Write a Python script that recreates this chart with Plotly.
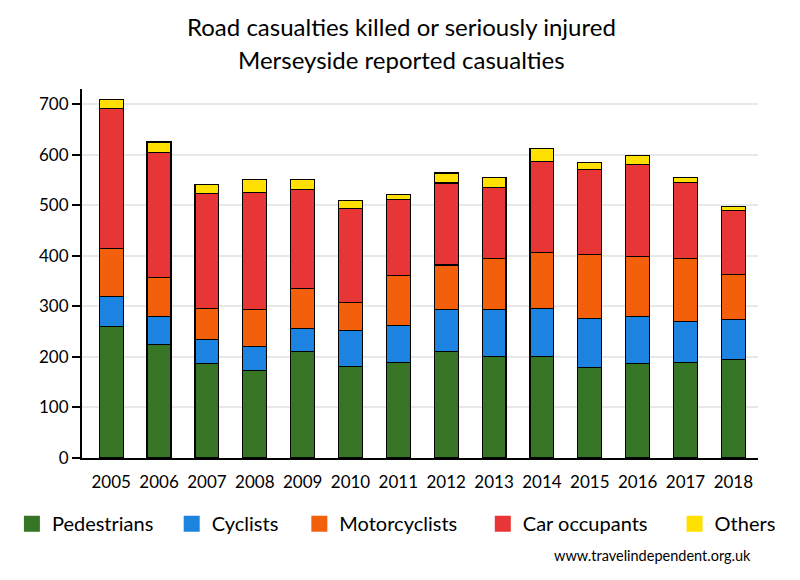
import plotly.graph_objects as go

years = ["2005", "2006", "2007", "2008", "2009", "2010", "2011",
         "2012", "2013", "2014", "2015", "2016", "2017", "2018"]
pedestrians = [260, 224, 187, 173, 210, 181, 189, 210, 201, 201, 179, 187, 189, 195]
cyclists = [59, 56, 47, 47, 46, 71, 73, 83, 93, 95, 97, 93, 81, 79]
motorcyclists = [95, 77, 61, 73, 79, 55, 99, 89, 101, 111, 127, 119, 125, 89]
car_occupants = [277, 248, 228, 232, 196, 186, 150, 162, 140, 180, 168, 182, 150, 127]
others = [18, 20, 18, 26, 20, 16, 10, 20, 20, 26, 14, 18, 10, 8]

series_names = ["Pedestrians", "Cyclists", "Motorcyclists", "Car occupants", "Others"]
series_values = [pedestrians, cyclists, motorcyclists, car_occupants, others]
series_colors = ["#367523", "#1c84e0", "#f45f0c", "#e83535", "#ffe000"]
legend_x = [-0.1037, 0.1327, 0.3215, 0.5929, 0.8766]

FONT = "Lato"

fig = go.Figure()
for name, vals, col in zip(series_names, series_values, series_colors):
    fig.add_trace(go.Bar(
        x=years, y=vals, name=name,
        marker=dict(color=col, line=dict(color="black", width=1.2)),
        showlegend=False,
    ))

legend_layouts = {}
for i, (name, col, lx) in enumerate(zip(series_names, series_colors, legend_x)):
    key = "legend" if i == 0 else f"legend{i + 1}"
    fig.add_trace(go.Scatter(
        x=[None], y=[None], mode="markers", name=name,
        marker=dict(symbol="square", size=16, color=col),
        showlegend=True, legend=key,
    ))
    legend_layouts[key] = dict(
        orientation="h", x=lx, xanchor="left", y=-0.178, yanchor="middle",
        font=dict(family=FONT, size=20, color="black"),
        bgcolor="rgba(0,0,0,0)", itemclick=False,
    )

fig.update_layout(
    width=800, height=580,
    barmode="stack", bargap=0.5,
    plot_bgcolor="white", paper_bgcolor="white",
    margin=dict(l=80, r=42, t=89, b=122),
    font=dict(family=FONT, size=17, color="black"),
    xaxis=dict(
        type="category", range=[-0.61, 13.515],
        showline=True, linecolor="black", linewidth=2,
        showgrid=False, ticks="", tickfont=dict(size=17),
        ticklabelstandoff=8,
    ),
    yaxis=dict(
        range=[0, 730], tickvals=[0, 100, 200, 300, 400, 500, 600, 700],
        showline=True, linecolor="black", linewidth=2,
        showgrid=True, gridcolor="#e8e8e8", gridwidth=2,
        ticks="outside", ticklen=8, tickwidth=2, tickcolor="black",
        tickfont=dict(size=17), zeroline=False,
    ),
    annotations=[
        dict(text="Road casualties killed or seriously injured", xref="paper", yref="paper",
             x=(400 - 80) / 678, y=1.169, xanchor="center", yanchor="middle", showarrow=False,
             font=dict(family=FONT, size=24, color="black")),
        dict(text="Merseyside reported casualties", xref="paper", yref="paper",
             x=(400 - 80) / 678, y=1.081, xanchor="center", yanchor="middle", showarrow=False,
             font=dict(family=FONT, size=24, color="black")),
        dict(text="www.travelindependent.org.uk", xref="paper", yref="paper",
             x=0.992, y=-0.2637, xanchor="right", yanchor="middle", showarrow=False,
             font=dict(family=FONT, size=14.5, color="black")),
    ],
    **legend_layouts,
)

fig.write_html("out.html", config={"displayModeBar": False},
               post_script="document.body.style.margin='0';")
